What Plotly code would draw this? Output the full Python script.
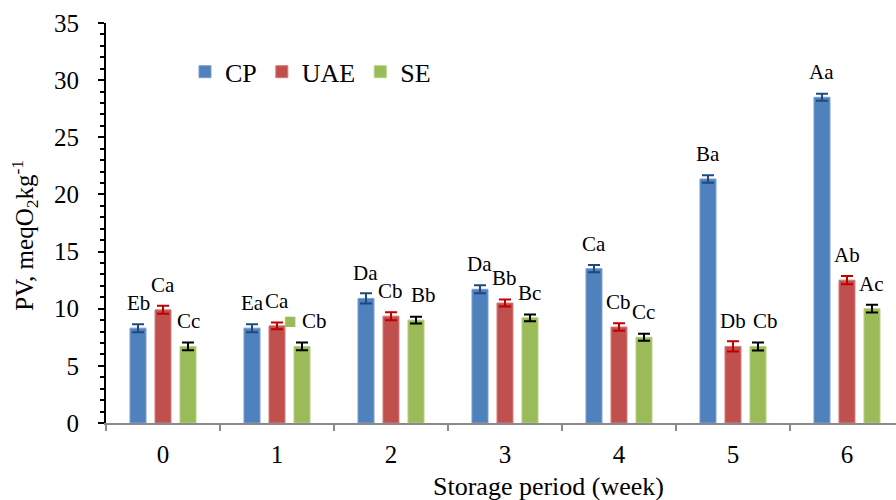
import plotly.graph_objects as go

# Peroxide value over storage time for three extraction methods
weeks = ["0", "1", "2", "3", "4", "5", "6"]
series_names = ["CP", "UAE", "SE"]

cp_values = [8.3, 8.3, 10.9, 11.7, 13.5, 21.35, 28.5]
uae_values = [9.9, 8.5, 9.35, 10.5, 8.4, 6.7, 12.5]
se_values = [6.7, 6.7, 9.0, 9.2, 7.5, 6.7, 10.0]

cp_errors = [0.35, 0.35, 0.45, 0.35, 0.32, 0.32, 0.3]
uae_errors = [0.35, 0.3, 0.35, 0.3, 0.33, 0.45, 0.36]
se_errors = [0.34, 0.34, 0.3, 0.3, 0.3, 0.35, 0.34]

# Significance letters per bar
cp_letters = ["Eb", "Ea", "Da", "Da", "Ca", "Ba", "Aa"]
uae_letters = ["Ca", "Ca", "Cb", "Bb", "Cb", "Db", "Ab"]
se_letters = ["Cc", "Cb", "Bb", "Bc", "Cc", "Cb", "Ac"]

fill_colors = ["#4F81BD", "#C0504D", "#9BBB59"]
edge_colors = ["#7A9FD0", "#D47D7B", "#B5D084"]
err_colors = ["#1F497D", "#C00000", "#000000"]

FONT = "Liberation Serif"

values = [cp_values, uae_values, se_values]
errors = [cp_errors, uae_errors, se_errors]
letters = [cp_letters, uae_letters, se_letters]

fig = go.Figure()
for i, name in enumerate(series_names):
    fig.add_trace(go.Bar(
        x=weeks,
        y=values[i],
        name=name,
        marker=dict(color=fill_colors[i], line=dict(color=edge_colors[i], width=1)),
        error_y=dict(type="data", array=errors[i], visible=True,
                     color=err_colors[i], thickness=2, width=6),
    ))

# Letter annotations above the bars; a few are nudged sideways
slot_px = 25
extra_shift = {(2, 1): 2.5, (2, 2): 8, (2, 5): 8}
annotations = []
for i in range(3):
    for j, wk in enumerate(weeks):
        txt = letters[i][j]
        if (i, j) == (2, 1):
            txt = "<span style='color:#9BBB59'>■</span> " + txt
        annotations.append(dict(
            x=wk, y=values[i][j], xref="x", yref="y",
            text=txt, showarrow=False,
            xanchor="center", yanchor="bottom",
            xshift=(i - 1) * slot_px + extra_shift.get((i, j), 0),
            yshift=11,
            font=dict(family=FONT, size=21, color="black"),
        ))

# Axis titles
annotations.append(dict(
    x=-0.103, y=0.47, xref="paper", yref="paper",
    text="PV, meqO<sub>2</sub>kg<sup>-1</sup>", textangle=-90,
    showarrow=False, xanchor="center", yanchor="middle",
    font=dict(family=FONT, size=25, color="black"),
))
annotations.append(dict(
    x=0.56, y=-0.16, xref="paper", yref="paper",
    text="Storage period (week)", showarrow=False,
    xanchor="center", yanchor="middle",
    font=dict(family=FONT, size=26, color="black"),
))

fig.update_layout(
    width=896, height=500,
    margin=dict(l=106, r=0, t=23, b=77),
    paper_bgcolor="white", plot_bgcolor="white",
    barmode="group", bargap=0.342, bargroupgap=0.36,
    font=dict(family=FONT, color="black"),
    annotations=annotations,
    legend=dict(
        orientation="h", x=0.1, y=0.878, xanchor="left", yanchor="middle",
        font=dict(family=FONT, size=26, color="black"),
        bgcolor="rgba(0,0,0,0)", itemwidth=30,
    ),
    xaxis=dict(
        type="category", range=[-0.5, 6.43],
        showline=True, linecolor="#898989", linewidth=2,
        ticks="outside", tickson="boundaries", ticklen=6, tickwidth=2,
        tickcolor="#898989", showgrid=False, zeroline=False,
        tickfont=dict(family=FONT, size=25, color="black"),
        ticklabelstandoff=8,
    ),
    yaxis=dict(
        range=[0, 35], dtick=5,
        showline=True, linecolor="black", linewidth=2,
        ticks="outside", ticklen=6, tickwidth=2, tickcolor="black",
        minor=dict(dtick=1, ticks="outside", ticklen=4, tickwidth=1.5,
                   tickcolor="black", showgrid=False),
        showgrid=False, zeroline=False,
        tickfont=dict(family=FONT, size=25, color="black"),
        ticklabelstandoff=14,
    ),
)

fig.write_html("out.html")
